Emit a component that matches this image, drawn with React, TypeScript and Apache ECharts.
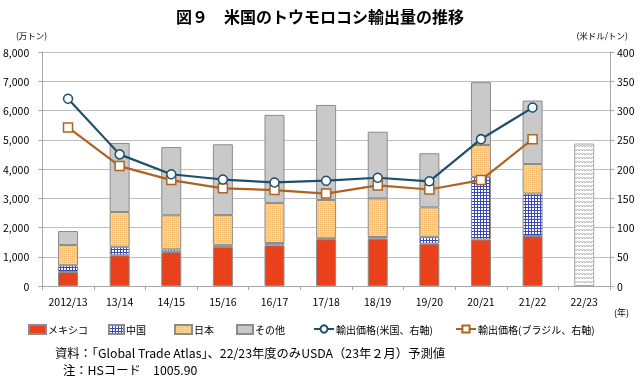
import React, { useEffect, useRef } from 'react';
import * as echarts from 'echarts';

const categories = ['2012/13', '13/14', '14/15', '15/16', '16/17', '17/18', '18/19', '19/20', '20/21', '21/22', '22/23'];
const mexico = [480, 1050, 1160, 1340, 1390, 1600, 1620, 1450, 1590, 1710, null];
const china = [230, 290, 90, 55, 80, 30, 55, 230, 2140, 1450, null];
const japan = [690, 1190, 1170, 1030, 1370, 1310, 1320, 1010, 1090, 1010, null];
const others = [480, 2360, 2330, 2420, 3010, 3250, 2280, 1850, 2150, 2170, null];
const forecast = [null, null, null, null, null, null, null, null, null, null, 4870];
const usPrice = [320, 225, 191, 182, 177, 180, 185, 179, 251, 305, null];
const brazilPrice = [271, 205, 181, 167, 164, 158, 172, 165, 181, 251, null];

const seriesNames = ['メキシコ', '中国', '日本', 'その他', '輸出価格(米国、右軸)', '輸出価格(ブラジル、右軸)'];
const titleText = '図９　米国のトウモロコシ輸出量の推移';
const leftUnit = '(万トン)';
const rightUnit = '(米ドル/トン)';
const yearUnit = '(年)';
const note1 = '資料：「Global Trade Atlas」、22/23年度のみUSDA（23年２月）予測値';
const note2 = '注：HSコード　1005.90';

const FONT = "'Noto Sans CJK JP', 'Noto Sans', sans-serif";

function makeCanvas(w: number, h: number, draw: (ctx: CanvasRenderingContext2D) => void) {
  const c = document.createElement('canvas');
  c.width = w;
  c.height = h;
  const ctx = c.getContext('2d')!;
  draw(ctx);
  return c;
}

export default function App() {
  const ref = useRef<HTMLDivElement>(null);
  useEffect(() => {
    if (!ref.current) return;
    const chart = echarts.init(ref.current, undefined, { renderer: 'svg' });

    const chinaCanvas = makeCanvas(3, 3, (ctx) => {
      ctx.fillStyle = '#ffffff';
      ctx.fillRect(0, 0, 3, 3);
      ctx.fillStyle = '#3a48b8';
      ctx.fillRect(0, 0, 3, 1);
      ctx.fillRect(0, 0, 1, 3);
    });
    const japanCanvas = makeCanvas(2, 2, (ctx) => {
      ctx.fillStyle = '#fbd58f';
      ctx.fillRect(0, 0, 2, 2);
      ctx.fillStyle = '#efb868';
      ctx.fillRect(0, 0, 1, 1);
    });
    const fcCanvas = makeCanvas(6, 4, (ctx) => {
      ctx.fillStyle = '#ffffff';
      ctx.fillRect(0, 0, 6, 4);
      ctx.strokeStyle = '#b5b5b5';
      ctx.lineWidth = 1;
      ctx.beginPath();
      ctx.moveTo(0, 3);
      ctx.lineTo(1.5, 1);
      ctx.lineTo(3, 3);
      ctx.lineTo(4.5, 1);
      ctx.lineTo(6, 3);
      ctx.stroke();
    });
    const pat = (c: HTMLCanvasElement) => ({ image: c, repeat: 'repeat', imageWidth: c.width, imageHeight: c.height });

    const barBorder = { borderColor: '#8c8c8c', borderWidth: 1 };
    const usColor = '#1d4e6c';
    const brColor = '#ad6420';

    const legendDefs = [
      { name: seriesNames[0], left: 28, w: 17, icon: 'rect' },
      { name: seriesNames[1], left: 108, w: 15, icon: 'rect' },
      { name: seriesNames[2], left: 174, w: 17, icon: 'rect' },
      { name: seriesNames[3], left: 236, w: 16, icon: 'rect' },
      { name: seriesNames[4], left: 313, w: 20, icon: undefined },
      { name: seriesNames[5], left: 455, w: 20, icon: undefined },
    ];

    chart.setOption({
      animation: false,
      textStyle: { fontFamily: FONT },
      grid: { left: 40, right: 30, top: 52, bottom: 93 },
      legend: legendDefs.map((d) => ({
        data: d.icon ? [{ name: d.name, icon: d.icon }] : [d.name],
        left: d.left,
        top: 324,
        itemWidth: d.w,
        itemHeight: 9,
        itemGap: 0,
        padding: 0,
        selectedMode: false,
        textStyle: { fontSize: 10, color: '#000', fontFamily: FONT, padding: [0, 0, 0, -3] },
      })),
      xAxis: {
        type: 'category',
        data: categories,
        boundaryGap: true,
        axisLine: { lineStyle: { color: '#a6a6a6' } },
        axisTick: { show: true, interval: 0, length: 4, lineStyle: { color: '#a6a6a6' } },
        axisLabel: { interval: 0, color: '#000', fontSize: 10.5, margin: 10, fontFamily: FONT },
      },
      yAxis: [
        {
          type: 'value',
          min: 0,
          max: 8000,
          interval: 1000,
          axisLine: { show: true, lineStyle: { color: '#a6a6a6' } },
          axisTick: { show: true, length: 4, lineStyle: { color: '#a6a6a6' } },
          axisLabel: {
            color: '#000',
            fontSize: 10.5,
            margin: 13,
            fontFamily: FONT,
            formatter: (v: number) => v.toLocaleString('en-US'),
          },
          splitLine: { show: true, lineStyle: { color: '#bfbfbf', width: 1 } },
        },
        {
          type: 'value',
          min: 0,
          max: 400,
          interval: 50,
          position: 'right',
          axisLine: { show: true, lineStyle: { color: '#a6a6a6' } },
          axisTick: { show: true, length: 4, lineStyle: { color: '#a6a6a6' } },
          axisLabel: { color: '#000', fontSize: 10.5, margin: 7, fontFamily: FONT },
          splitLine: { show: false },
        },
      ],
      series: [
        { name: seriesNames[0], type: 'bar', stack: 'v', barWidth: 20, data: mexico, itemStyle: { color: '#e8411b', ...barBorder } },
        { name: seriesNames[1], type: 'bar', stack: 'v', barWidth: 20, data: china, itemStyle: { color: pat(chinaCanvas), ...barBorder } },
        { name: seriesNames[2], type: 'bar', stack: 'v', barWidth: 20, data: japan, itemStyle: { color: pat(japanCanvas), ...barBorder } },
        { name: seriesNames[3], type: 'bar', stack: 'v', barWidth: 20, data: others, itemStyle: { color: '#c9c9c9', ...barBorder } },
        { name: '22/23予測', type: 'bar', stack: 'v', barWidth: 20, data: forecast, itemStyle: { color: pat(fcCanvas), borderColor: '#a6a6a6', borderWidth: 1 } },
        {
          name: seriesNames[4],
          type: 'line',
          yAxisIndex: 1,
          data: usPrice,
          symbol: 'circle',
          symbolSize: 9,
          lineStyle: { color: usColor, width: 2.2 },
          itemStyle: { color: '#ffffff', borderColor: usColor, borderWidth: 1.5 },
          z: 5,
        },
        {
          name: seriesNames[5],
          type: 'line',
          yAxisIndex: 1,
          data: brazilPrice,
          symbol: 'rect',
          symbolSize: 9,
          lineStyle: { color: brColor, width: 2.2 },
          itemStyle: { color: '#ffffff', borderColor: brColor, borderWidth: 1.5 },
          z: 4,
        },
      ],
      graphic: [
        { type: 'text', left: 'center', top: 8, style: { text: titleText, fontSize: 16, fontWeight: 'bold', fill: '#000', fontFamily: FONT } },
        { type: 'text', x: 16, y: 35, style: { text: leftUnit, fontSize: 8.5, fill: '#000', fontFamily: FONT, textVerticalAlign: 'middle' } },
        { type: 'text', x: 628, y: 35, style: { text: rightUnit, fontSize: 8.5, fill: '#000', fontFamily: FONT, textAlign: 'right', textVerticalAlign: 'middle' } },
        { type: 'text', x: 629, y: 312, style: { text: yearUnit, fontSize: 9, fill: '#000', fontFamily: FONT, textAlign: 'right', textVerticalAlign: 'middle' } },
        { type: 'text', x: 55, y: 353, style: { text: note1, fontSize: 12.3, fill: '#000', fontFamily: FONT, textVerticalAlign: 'middle' } },
        { type: 'text', x: 63, y: 370, style: { text: note2, fontSize: 12.3, fill: '#000', fontFamily: FONT, textVerticalAlign: 'middle' } },
      ],
    });
    return () => chart.dispose();
  }, []);
  return <div ref={ref} style={{ position: 'fixed', left: 0, top: 0, width: 640, height: 379 }} />;
}
